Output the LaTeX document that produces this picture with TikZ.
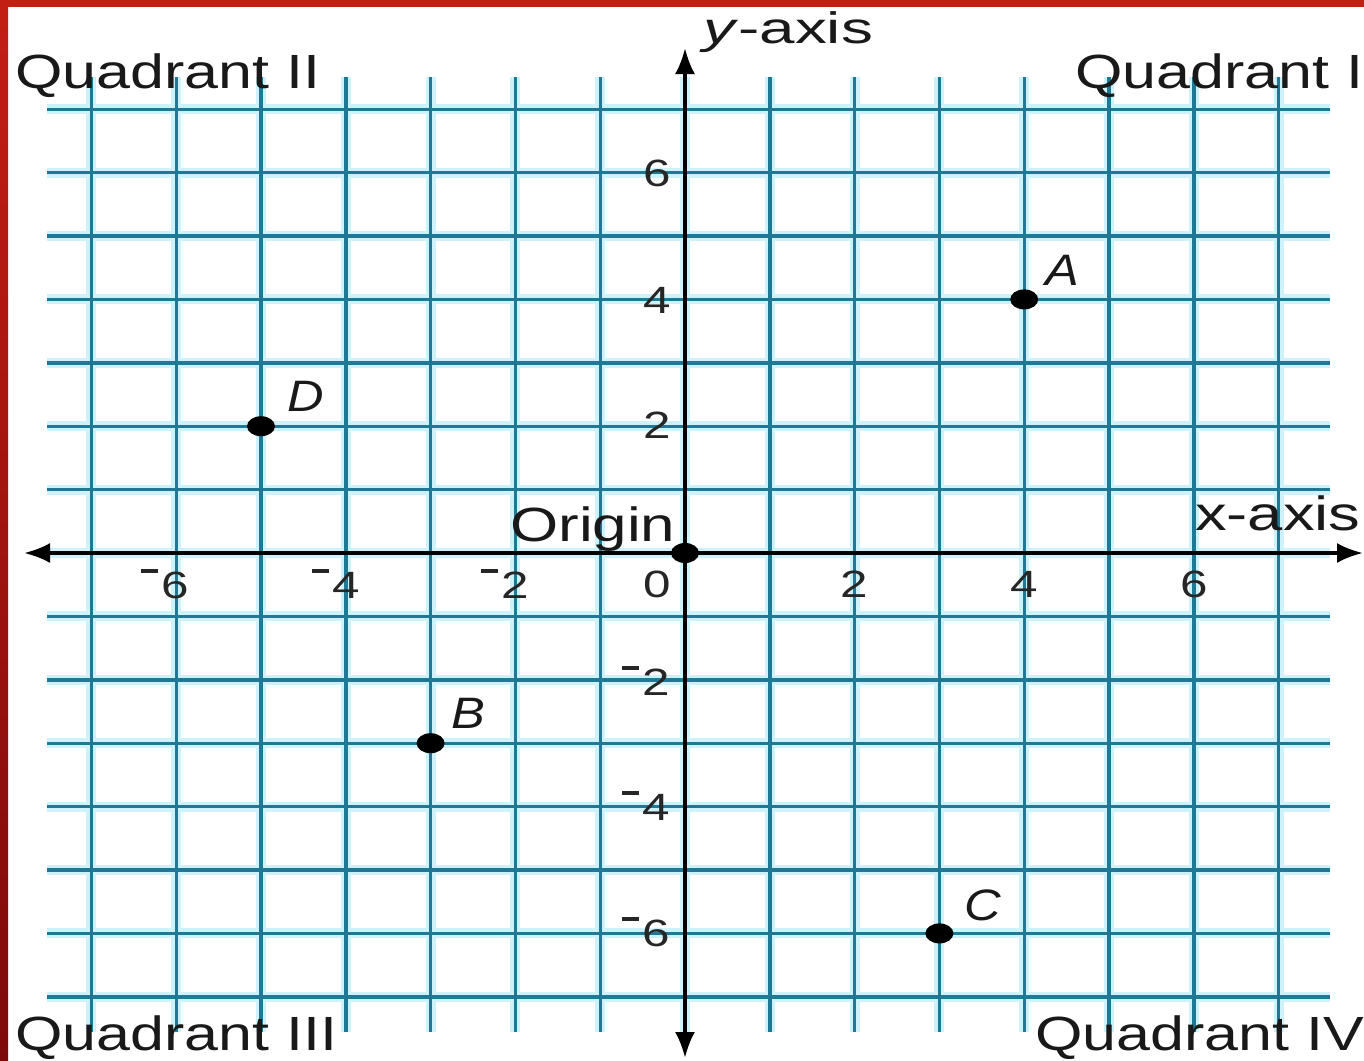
\documentclass[tikz,border=0pt]{standalone}
\usepackage{fontspec}
\usepackage{graphicx}
\setmainfont{Liberation Sans}
\usetikzlibrary{arrows.meta}
\definecolor{gridc}{RGB}{30,120,150}
\definecolor{halo}{RGB}{205,242,252}
\definecolor{redbar}{RGB}{195,30,20}
\definecolor{darkred}{RGB}{125,10,10}
\newcommand{\sxa}[1]{\scalebox{1.27}[1]{#1}}
\newcommand{\sxt}[1]{\scalebox{1.3}[1]{#1}}
\newcommand{\mneg}{\llap{\rule[0.68em]{0.34em}{0.1em}\kern0.07em}}
\begin{document}
\begin{tikzpicture}[x=1pt,y=-1pt,
  gridline/.style={draw=gridc,line width=3.4pt},
  haloline/.style={draw=halo,line width=10pt},
  axisline/.style={draw=black,line width=3.6pt,{Latex[length=26pt,width=20pt]}-{Latex[length=26pt,width=20pt]}},
  qlab/.style={inner sep=0pt,anchor=base west,font=\fontsize{48}{50}\selectfont,text=black!90},
  ticklab/.style={inner sep=0pt,font=\fontsize{38}{40}\selectfont,text=black!85},
  ptlab/.style={inner sep=0pt,font=\fontsize{44}{46}\selectfont\itshape,text=black!90},
  dotfill/.style={fill=black}
]
\useasboundingbox (0,0) rectangle (1364,1060);
\fill[white] (0,0) rectangle (1364,1060);
% grid halo
\foreach \k in {-7,...,7} {
  \draw[haloline] ({685+84.8*\k},77) -- ({685+84.8*\k},1032);
  \draw[haloline] (47,{553-63.4*\k}) -- (1330,{553-63.4*\k});
}
% grid lines
\foreach \k in {-7,...,7} {
  \draw[gridline] ({685+84.8*\k},77) -- ({685+84.8*\k},1032);
  \draw[gridline] (47,{553-63.4*\k}) -- (1330,{553-63.4*\k});
}
% red frame
\shade[top color=redbar,bottom color=darkred] (0,0) rectangle (8,1060);
\fill[redbar] (0,0) rectangle (1364,7);
% axes
\coordinate (xl) at (24,553);
\coordinate (xr) at (1363,553);
\coordinate (yt) at (685,48);
\coordinate (yb) at (685,1058);
\draw[axisline] (xl) -- (xr);
\draw[axisline] (yb) -- (yt);
% axis titles
\node[qlab,font=\fontsize{44}{46}\selectfont] (yax) at (703,43) {\scalebox{1.45}[1]{\textit{y}-axis}};
\node[qlab] (xax) at (1195,530) {\scalebox{1.32}[1]{x-axis}};
\node[qlab] (orig) at (510,541) {\scalebox{1.29}[1]{Origin}};
% quadrant labels
\node[qlab] (q2) at (15,88) {\sxa{Quadrant II}};
\node[qlab] (q1) at (1075,88) {\sxa{Quadrant I}};
\node[qlab] (q3) at (15,1050) {\sxa{Quadrant III}};
\node[qlab] (q4) at (1035,1050) {\sxa{Quadrant IV}};
% x tick labels
\node[ticklab] (xm6) at (175.2,584) {\sxt{\mneg 6}};
\node[ticklab] (xm4) at (345.8,584) {\sxt{\mneg 4}};
\node[ticklab] (xm2) at (515.4,584) {\sxt{\mneg 2}};
\node[ticklab] (x0) at (657,584) {\sxt{0}};
\node[ticklab] (x2) at (854.6,584) {\sxt{2}};
\node[ticklab] (x4) at (1024.2,584) {\sxt{4}};
\node[ticklab] (x6) at (1193.8,584) {\sxt{6}};
% y tick labels
\node[ticklab] (y6) at (657,173) {\sxt{6}};
\node[ticklab] (y4) at (657,300) {\sxt{4}};
\node[ticklab] (y2) at (657,425) {\sxt{2}};
\node[ticklab] (ym2) at (656,681) {\sxt{\mneg 2}};
\node[ticklab] (ym4) at (656,806) {\sxt{\mneg 4}};
\node[ticklab] (ym6) at (656,932) {\sxt{\mneg 6}};
% points
\coordinate (O) at (685,553);
\coordinate (A) at (1024.2,299.4);
\coordinate (D) at (261,426.2);
\coordinate (B) at (430.6,743.2);
\coordinate (C) at (939.4,933.4);
\foreach \p in {O,A,D,B,C} { \fill[dotfill] (\p) ellipse [x radius=14, y radius=10]; }
\node[ptlab] (Al) at (1062,270) {\scalebox{1.15}[1]{A}};
\node[ptlab] (Dl) at (306,396) {\scalebox{1.15}[1]{D}};
\node[ptlab] (Bl) at (468,713) {\scalebox{1.15}[1]{B}};
\node[ptlab] (Cl) at (983,905) {\scalebox{1.15}[1]{C}};
\end{tikzpicture}
\end{document}
